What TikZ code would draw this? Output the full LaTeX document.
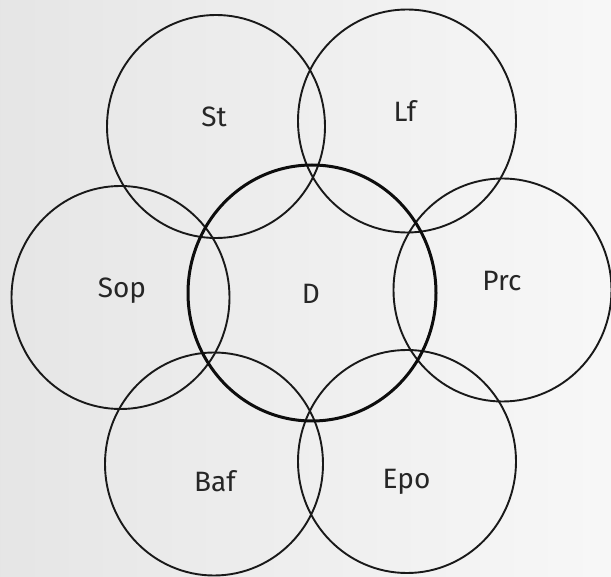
\documentclass[tikz,border=0pt]{standalone}
\usepackage{fontspec}
\setmainfont{Fira Sans}
\usetikzlibrary{shapes.geometric}
\tikzset{
  ring/.style={draw=black!90, line width=1.9pt, ellipse, inner sep=0pt,
    minimum width=218pt, minimum height=223pt},
  bigring/.style={draw=black!95, line width=3pt, ellipse, inner sep=0pt,
    minimum width=248pt, minimum height=256pt},
  lbl/.style={anchor=base, inner sep=0pt, font=\fontsize{28}{30}\selectfont, text=black!85}
}
\begin{document}
\begin{tikzpicture}[x=1pt,y=-1pt]
\shade[left color=black!10, right color=black!3] (0,0) rectangle (611,577);
\useasboundingbox (0,0) rectangle (611,577);
\node[ring] (st) at (216,126.5) {};
\node[ring] (lf) at (407,121) {};
\node[ring] (sop) at (120.5,297.5) {};
\node[ring] (prc) at (502.5,290) {};
\node[ring] (baf) at (214,464) {};
\node[ring] (epo) at (407,461.5) {};
\node[bigring] (d) at (312,293) {};
\node[lbl] (tst) at (214,127) {St};
\node[lbl] (tlf) at (405,122) {Lf};
\node[lbl] (tsop) at (122,298) {Sop};
\node[lbl] (td) at (311,304) {D};
\node[lbl] (tprc) at (502,291) {Prc};
\node[lbl] (tbaf) at (215,491.5) {Baf};
\node[lbl] (tepo) at (406.5,489) {Epo};
\end{tikzpicture}
\end{document}
